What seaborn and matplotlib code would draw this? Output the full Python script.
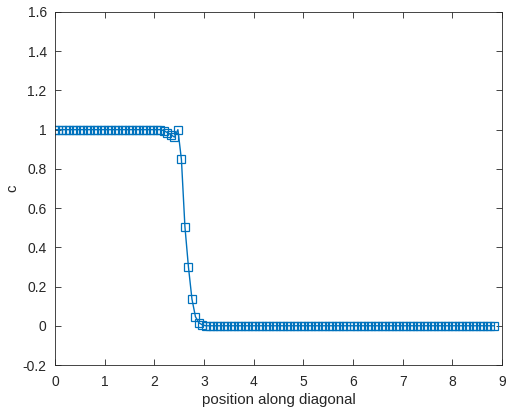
import numpy as np
import matplotlib
matplotlib.use("Agg")
import matplotlib.pyplot as plt
import seaborn as sns

# concentration sampled along the grid diagonal (cell size 0.05)
c_values = ([1.0] * 31
            + [0.995, 0.985, 0.975, 0.962, 1.0, 0.848, 0.505, 0.30,
               0.136, 0.046, 0.015, 0.004]
            + [0.0] * 83)
grid_h = 0.05
position = np.sqrt(2) * grid_h * np.arange(len(c_values))

x_ticks = [0, 1, 2, 3, 4, 5, 6, 7, 8, 9]
y_ticks = [-0.2, 0, 0.2, 0.4, 0.6, 0.8, 1, 1.2, 1.4, 1.6]

line_color = "#0072BD"
axis_color = "#262626"

plt.rcParams["font.family"] = ["Liberation Sans", "DejaVu Sans"]
plt.rcParams["font.size"] = 10

fig = plt.figure(figsize=(5.10, 4.13), dpi=100)
ax = fig.add_axes([0.1078, 0.1162, 0.8765, 0.8548])

sns.lineplot(x=position, y=c_values, ax=ax, color=line_color, linewidth=1.0,
             marker="s", markersize=5.2, markerfacecolor="none",
             markeredgecolor=line_color, markeredgewidth=0.9)

ax.set_xlim(0, 9)
ax.set_ylim(-0.2, 1.6)
ax.set_xticks(x_ticks)
ax.set_yticks(y_ticks)
ax.set_xticklabels([f"{t:g}" for t in x_ticks])
ax.set_yticklabels([f"{t:g}" for t in y_ticks])
ax.set_xlabel("position along diagonal", color=axis_color, fontsize=10.8, labelpad=3)
ax.set_ylabel("c", color=axis_color, fontsize=10.8, labelpad=2)

ax.tick_params(direction="in", length=4, width=0.6, colors=axis_color,
               top=True, right=True, labelsize=10)
ax.tick_params(axis="x", pad=7)
ax.tick_params(axis="y", pad=6)
for side in ax.spines.values():
    side.set_color(axis_color)
    side.set_linewidth(0.6)

fig.savefig("out.png", dpi=100)
